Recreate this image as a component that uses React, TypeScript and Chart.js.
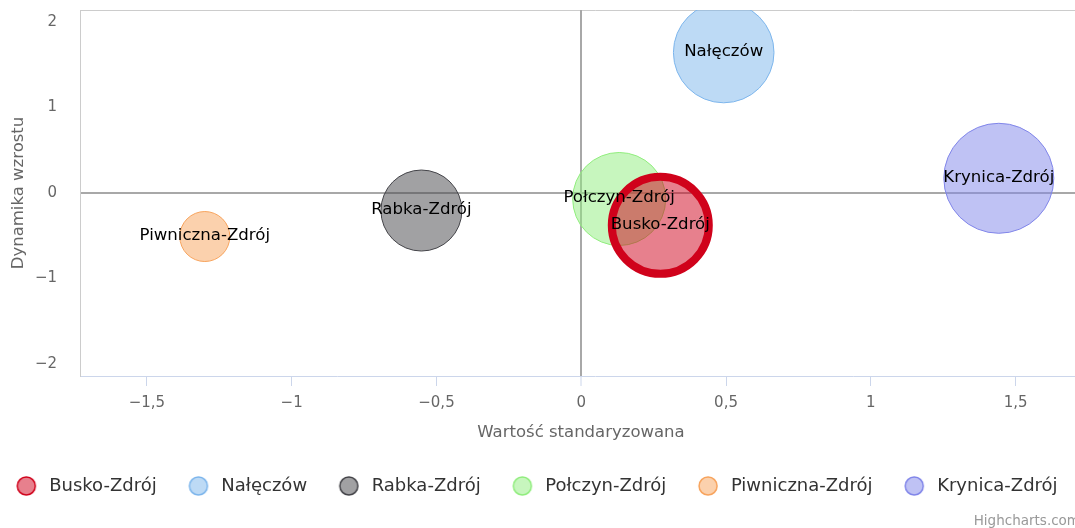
import React, { useEffect, useRef } from 'react';
import { Chart, registerables } from 'chart.js';

Chart.register(...registerables);

// ---- data ----
const seriesNames = ['Busko-Zdrój', 'Nałęczów', 'Rabka-Zdrój', 'Połczyn-Zdrój', 'Piwniczna-Zdrój', 'Krynica-Zdrój'];
const xValues = [0.273, 0.492, -0.552, 0.131, -1.3, 1.442];
const yValues = [-0.378, 1.643, -0.205, -0.07, -0.509, 0.172];
const bubbleSizes = [48.5, 50.3, 40.5, 46.5, 25, 55];
const seriesColors = ['#d0021b', '#7cb5ec', '#434348', '#90ed7d', '#f7a35c', '#8085e9'];
const seriesBorderWidths = [8, 1, 1, 1, 1, 1];
const xAxisTitle = 'Wartość standaryzowana';
const yAxisTitle = 'Dynamika wzrostu';
const creditText = 'Highcharts.com';
const xRange = [-1.731, 1.826];
const yRange = [-2.14, 2.14];

const FONT = '"DejaVu Sans", "Noto Sans", sans-serif';
const CANVAS_W = 1120;
const CANVAS_H = 528;
const PLOT_RIGHT = 1110;
const LEGEND_PAD = 37.6;
const LEGEND_FONT = 18;
const LEGEND_H = LEGEND_FONT + LEGEND_PAD + 10;
const LEGEND_TOP = 486 - LEGEND_PAD - LEGEND_FONT / 2;
const PLOT_TOP = 10;
const PLOT_BOTTOM = 376;
const LEFT_PAD = -15.4;

function rgba(hex: string, a: number) {
  const n = parseInt(hex.slice(1), 16);
  return `rgba(${(n >> 16) & 255},${(n >> 8) & 255},${n & 255},${a})`;
}

function fmt(v: number) {
  const r = Math.round(v * 10) / 10;
  const s = String(Math.abs(r)).replace('.', ',');
  return r < 0 ? '\u2212' + s : s;
}

function markerImage(color: string) {
  const c = document.createElement('canvas');
  c.width = 34;
  c.height = 22;
  const ctx = c.getContext('2d')!;
  ctx.beginPath();
  ctx.arc(17 - 4.9, 11, 9, 0, Math.PI * 2);
  ctx.fillStyle = rgba(color, 0.5);
  ctx.fill();
  ctx.lineWidth = 1.5;
  ctx.strokeStyle = color;
  ctx.stroke();
  return c;
}

const plotBorder = {
  id: 'plotBorder',
  beforeDraw(chart: any) {
    const { ctx, chartArea } = chart;
    ctx.save();
    ctx.strokeStyle = '#cccccc';
    ctx.lineWidth = 1;
    ctx.beginPath();
    ctx.moveTo(chartArea.left + 0.5, chartArea.bottom);
    ctx.lineTo(chartArea.left + 0.5, chartArea.top + 0.5);
    ctx.lineTo(chartArea.right, chartArea.top + 0.5);
    ctx.stroke();
    ctx.restore();
  },
};

const bubbleLabels = {
  id: 'bubbleLabels',
  afterDatasetsDraw(chart: any) {
    const { ctx } = chart;
    ctx.save();
    ctx.font = `16.6px ${FONT}`;
    ctx.fillStyle = '#000000';
    ctx.textAlign = 'center';
    ctx.textBaseline = 'middle';
    chart.data.datasets.forEach((ds: any, i: number) => {
      const meta = chart.getDatasetMeta(i);
      meta.data.forEach((el: any) => {
        ctx.fillText(ds.label, el.x, el.y - 1);
      });
    });
    ctx.restore();
  },
};

// x-axis title (centred on the visible plot width) and credits
const extraText = {
  id: 'extraText',
  afterDraw(chart: any) {
    const { ctx } = chart;
    ctx.save();
    ctx.font = `16.5px ${FONT}`;
    ctx.fillStyle = '#666666';
    ctx.textAlign = 'center';
    ctx.textBaseline = 'middle';
    ctx.fillText(xAxisTitle, 581, 433);
    ctx.font = `13.5px ${FONT}`;
    ctx.fillStyle = '#999999';
    ctx.textAlign = 'right';
    ctx.fillText(creditText, 1080, 521);
    ctx.restore();
  },
};

export default function App() {
  const ref = useRef<HTMLCanvasElement>(null);

  useEffect(() => {
    if (!ref.current) return;
    const markers = seriesColors.map(markerImage);
    const datasets = seriesNames.map((name, i) => ({
      label: name,
      data: [{ x: xValues[i], y: yValues[i], r: bubbleSizes[i] }],
      backgroundColor: rgba(seriesColors[i], 0.5),
      borderColor: seriesColors[i],
      borderWidth: seriesBorderWidths[i],
      clip: 0,
    }));

    const zeroColor = (c: any) => (c.tick && c.tick.value === 0 ? '#a8a8a8' : 'rgba(0,0,0,0)');
    const zeroWidth = (c: any) => (c.tick && c.tick.value === 0 ? 2 : 1);

    const chart = new Chart(ref.current, {
      type: 'bubble',
      data: { datasets },
      plugins: [plotBorder, bubbleLabels, extraText],
      options: {
        animation: false,
        responsive: false,
        maintainAspectRatio: false,
        devicePixelRatio: 1,
        events: [],
        layout: {
          autoPadding: false,
          padding: {
            top: PLOT_TOP,
            left: LEFT_PAD,
            right: CANVAS_W - PLOT_RIGHT,
            bottom: CANVAS_H - LEGEND_H - LEGEND_TOP,
          },
        },
        scales: {
          x: {
            type: 'linear',
            position: 'bottom',
            min: xRange[0],
            max: xRange[1],
            afterFit: (s: any) => {
              s.height = LEGEND_TOP - PLOT_BOTTOM;
              s.paddingLeft = 0;
              s.paddingRight = 0;
            },
            ticks: {
              stepSize: 0.5,
              includeBounds: false,
              autoSkip: false,
              maxRotation: 0,
              padding: 8.5,
              color: '#666666',
              font: { family: FONT, size: 15 },
              callback: (v: any) => fmt(Number(v)),
            },
            grid: {
              color: zeroColor,
              lineWidth: zeroWidth,
              tickColor: '#ccd6eb',
              tickWidth: 1,
              tickLength: 10,
              drawTicks: true,
            },
            border: { display: true, color: '#ccd6eb', width: 1 },
            title: { display: false, text: xAxisTitle },
          },
          y: {
            type: 'linear',
            position: 'left',
            min: yRange[0],
            max: yRange[1],
            afterFit: (s: any) => {
              s.width = 80 - LEFT_PAD;
              s.paddingTop = 0;
              s.paddingBottom = 0;
            },
            ticks: {
              stepSize: 1,
              includeBounds: false,
              autoSkip: false,
              padding: 23,
              color: '#666666',
              font: { family: FONT, size: 15 },
              callback: (v: any) => fmt(Number(v)),
            },
            grid: {
              color: zeroColor,
              lineWidth: zeroWidth,
              drawTicks: false,
            },
            border: { display: true, color: '#cccccc', width: 1 },
            title: {
              display: true,
              text: yAxisTitle,
              color: '#666666',
              font: { family: FONT, size: 16.5 },
              padding: { top: 19 - 9.9 - LEFT_PAD, bottom: 0 },
            },
          },
        },
        plugins: {
          tooltip: { enabled: false },
          legend: {
            display: true,
            position: 'bottom',
            align: 'start',
            labels: {
              usePointStyle: true,
              padding: LEGEND_PAD,
              color: '#333333',
              font: { family: FONT, size: LEGEND_FONT },
              generateLabels: (ch: any) =>
                ch.data.datasets.map((ds: any, i: number) => ({
                  text: ds.label,
                  fillStyle: rgba(seriesColors[i], 0.5),
                  strokeStyle: seriesColors[i],
                  lineWidth: 0,
                  pointStyle: markers[i],
                  hidden: false,
                  datasetIndex: i,
                  fontColor: '#333333',
                })),
            },
          },
        },
      },
    } as any);

    return () => chart.destroy();
  }, []);

  return (
    <div style={{ position: 'fixed', left: 0, top: 0, width: 1075, height: 528, overflow: 'hidden', background: '#fff' }}>
      <canvas ref={ref} width={CANVAS_W} height={CANVAS_H} style={{ display: 'block', width: CANVAS_W, height: CANVAS_H }} />
    </div>
  );
}
